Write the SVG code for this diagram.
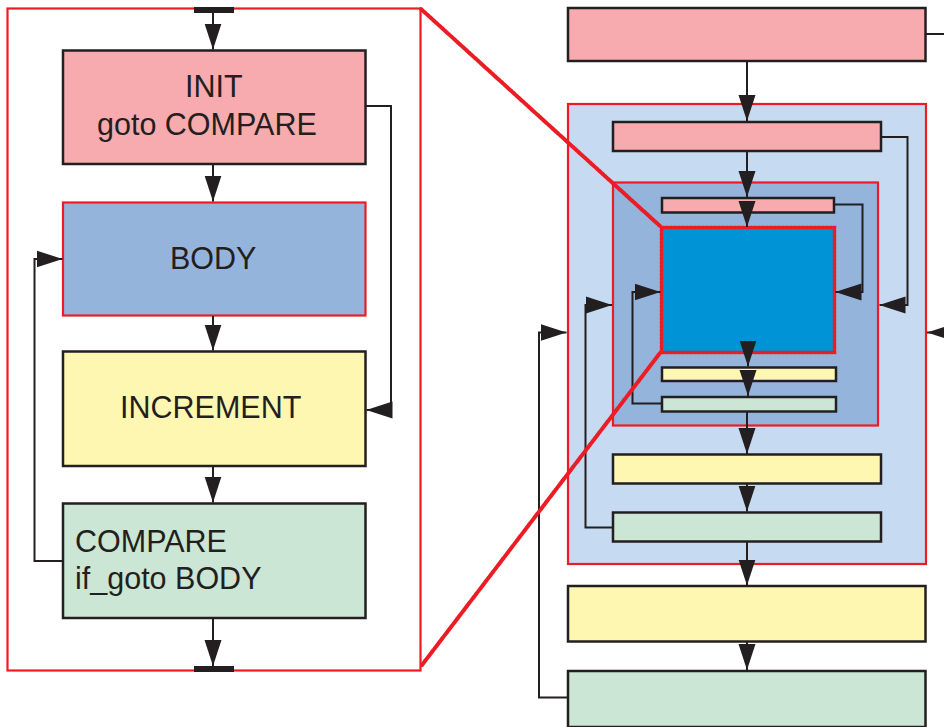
<svg xmlns="http://www.w3.org/2000/svg" width="944" height="727" viewBox="0 0 944 727">
<defs>
<style>
.box{stroke:#231f20;stroke-width:2.5}
.pink{fill:#f7abae}
.blue{fill:#95b4dc}
.yellow{fill:#fef7b1}
.green{fill:#cbe6d4}
.lblue{fill:#c6daf1}
.red{stroke:#ed1c24;stroke-width:2.2}
.con{fill:none;stroke:#231f20;stroke-width:2}
.arr{marker-end:url(#ah)}
.zoom{fill:none;stroke:#ed1c24;stroke-width:4;stroke-dasharray:2.5 1.5;stroke-linecap:round}
text{font-family:"Liberation Sans",Arial,sans-serif;font-size:30.5px;fill:#231f20}
</style>
<marker id="ah" markerUnits="userSpaceOnUse" markerWidth="26" markerHeight="18" refX="26" refY="9" orient="auto">
<path d="M0 0.5 L26 9 L0 17.5 z" fill="#231f20"/>
</marker>
</defs>

<!-- Left detailed panel -->
<g id="panel">
<rect x="7.5" y="8.5" width="413" height="662" fill="#ffffff" class="red"/>
<rect x="194" y="7" width="40" height="6" fill="#231f20"/>
<rect x="194" y="666" width="40" height="6" fill="#231f20"/>
</g>

<g id="init">
<rect x="63" y="50.5" width="302.5" height="113.5" class="box pink"/>
<text x="185" y="97">INIT</text>
<text x="97" y="135">goto COMPARE</text>
</g>
<g id="body">
<rect x="63" y="202.5" width="302.5" height="113" class="blue red"/>
<text x="170" y="269">BODY</text>
</g>
<g id="increment">
<rect x="63" y="351.5" width="302.5" height="114.5" class="box yellow"/>
<text x="120" y="418">INCREMENT</text>
</g>
<g id="compare">
<rect x="63" y="503.5" width="302.5" height="114.5" class="box green"/>
<text x="75" y="552">COMPARE</text>
<text x="75" y="589">if_goto BODY</text>
</g>

<!-- Right overview -->
<g id="top">
<rect x="568" y="8" width="357.5" height="53" class="box pink"/>
</g>
<g id="outer">
<rect x="568" y="104" width="358" height="460" class="lblue red"/>
</g>
<g id="pink2">
<rect x="613" y="122" width="268" height="29" class="box pink"/>
</g>
<g id="mid">
<rect x="613" y="182.5" width="265" height="243" class="blue red"/>
</g>
<g id="pink3">
<rect x="662" y="198" width="172" height="14.5" class="box pink"/>
</g>
<g id="core">
<rect x="661.5" y="227.5" width="173" height="125" fill="#0094d6"/>
<rect x="661.5" y="227.5" width="173" height="125" class="zoom" style="stroke-width:3.5"/>
</g>
<g id="yellow3">
<rect x="662" y="367.5" width="174" height="13.5" class="box yellow"/>
</g>
<g id="green3">
<rect x="662" y="397" width="174" height="14.5" class="box green"/>
</g>
<g id="yellow2">
<rect x="613" y="454.5" width="268" height="29" class="box yellow"/>
</g>
<g id="green2">
<rect x="613" y="512.5" width="268" height="29" class="box green"/>
</g>
<g id="yellow1">
<rect x="568" y="586" width="357.5" height="55.5" class="box yellow"/>
</g>
<g id="green1">
<rect x="568" y="671" width="357.5" height="56" class="box green"/>
</g>

<g id="connectors">
<!-- left panel -->
<line x1="213" y1="13" x2="213" y2="49.5" class="con arr"/>
<line x1="213" y1="164" x2="213" y2="201.5" class="con arr"/>
<line x1="213" y1="316" x2="213" y2="350.5" class="con arr"/>
<line x1="213" y1="466" x2="213" y2="502.5" class="con arr"/>
<line x1="213" y1="618" x2="213" y2="666" class="con arr"/>
<path d="M365.5 106 H391 V410 H366.5" class="con arr"/>
<path d="M63 561 H34.5 V259 H62.5" class="con arr"/>

<!-- right overview -->
<line x1="747" y1="61" x2="747" y2="121" class="con arr"/>
<line x1="747" y1="151" x2="747" y2="197" class="con arr"/>
<line x1="747" y1="212" x2="747" y2="227" class="con arr"/>
<line x1="748" y1="341" x2="748" y2="366.5" class="con arr"/>
<line x1="748" y1="381" x2="748" y2="396" class="con arr"/>
<line x1="747" y1="411.5" x2="747" y2="454" class="con arr"/>
<line x1="747" y1="483.5" x2="747" y2="511.5" class="con arr"/>
<line x1="747" y1="541.5" x2="747" y2="585.5" class="con arr"/>
<line x1="747" y1="641.5" x2="747" y2="670" class="con arr"/>
<path d="M834 204.5 H862.5 V292 H835.5" class="con arr"/>
<path d="M881 137 H907.5 V305 H879.5" class="con arr"/>
<path d="M662 403.5 H632.5 V292 H660.5" class="con arr"/>
<path d="M613 527.5 H585.5 V305 H612" class="con arr"/>
<path d="M568 697.5 H539 V332.5 H566.5" class="con arr"/>
<path d="M925.5 34 H952 V332.5 H927" class="con arr"/>
</g>

<g id="zoomlines">
<line x1="421" y1="9" x2="660" y2="226" class="zoom"/>
<line x1="422" y1="665" x2="660" y2="353" class="zoom"/>
</g>
</svg>
